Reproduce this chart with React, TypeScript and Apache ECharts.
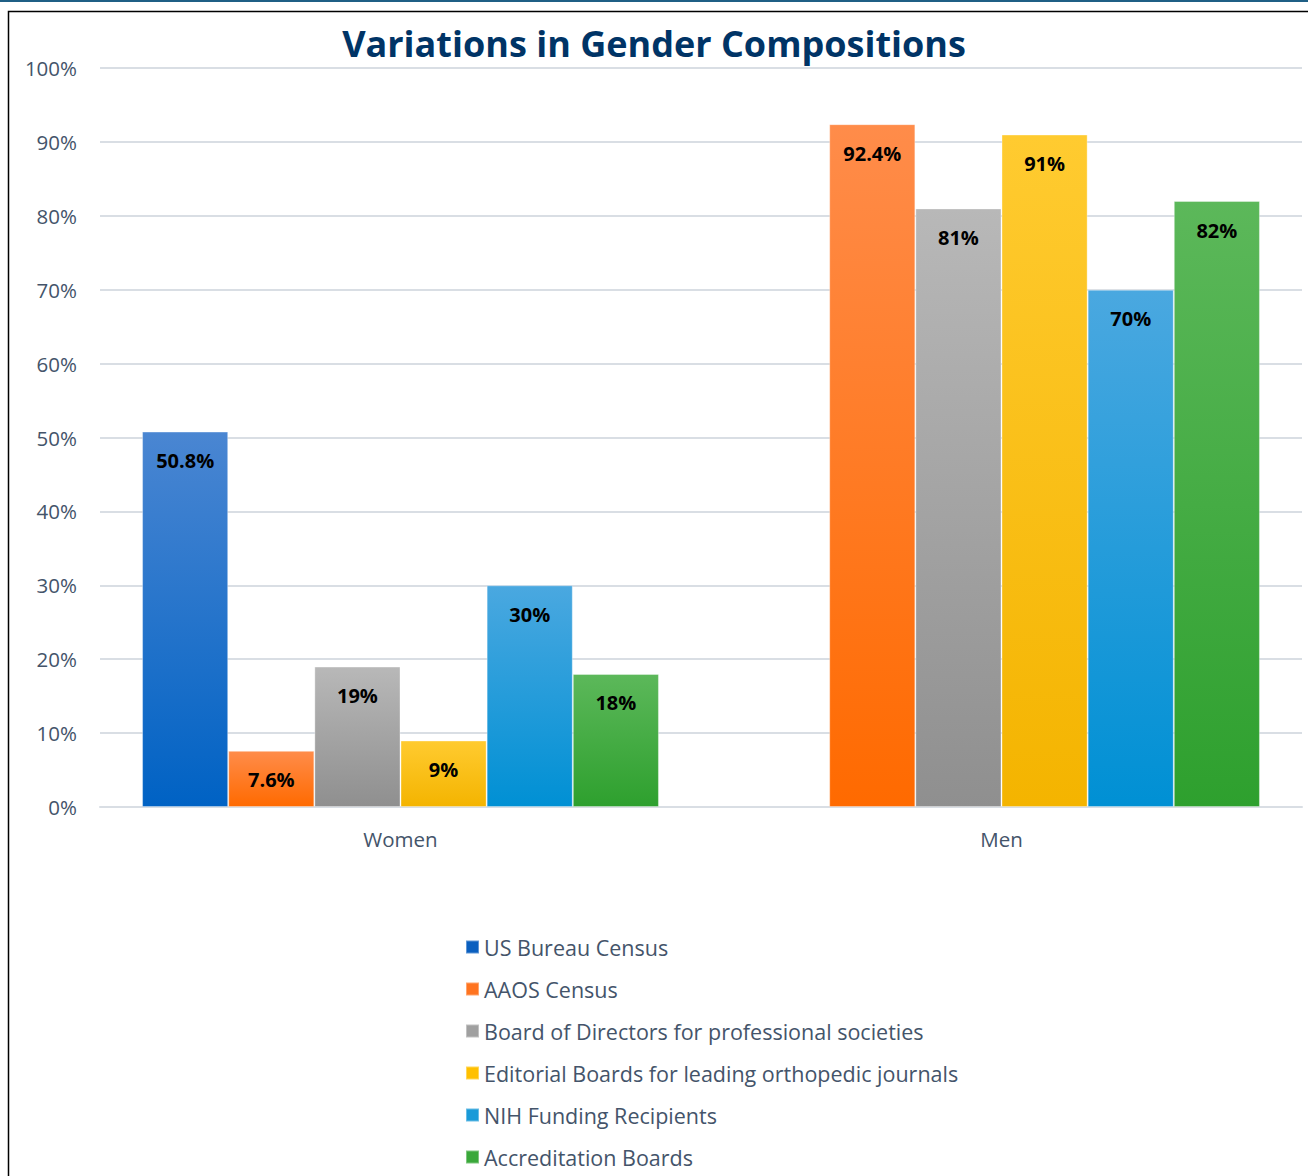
import React, { useEffect, useRef } from "react";
import * as echarts from "echarts";

const categories = ["Women", "Men"];
const seriesNames = [
  "US Bureau Census",
  "AAOS Census",
  "Board of Directors for professional societies",
  "Editorial Boards for leading orthopedic journals",
  "NIH Funding Recipients",
  "Accreditation Boards",
];
const usBureau = [50.8, null];
const aaos = [7.6, 92.4];
const boardDirectors = [19, 81];
const editorial = [9, 91];
const nih = [30, 70];
const accreditation = [18, 82];
const labelTexts = [
  ["50.8%", ""],
  ["7.6%", "92.4%"],
  ["19%", "81%"],
  ["9%", "91%"],
  ["30%", "70%"],
  ["18%", "82%"],
];
const yTicks = [0, 10, 20, 30, 40, 50, 60, 70, 80, 90, 100];

const seriesValues = [usBureau, aaos, boardDirectors, editorial, nih, accreditation];
const gradients: [string, string, string][] = [
  ["#4a86d2", "#0062c4", "#0a5fbf"],
  ["#ff8c4a", "#ff6a00", "#ff7420"],
  ["#b8b8b8", "#8f8f8f", "#a0a0a0"],
  ["#ffcb30", "#f4b400", "#ffc000"],
  ["#4aa8e0", "#0090d4", "#1a9ad8"],
  ["#5cb85a", "#2ea02e", "#3aa83a"],
];

const FONT = "'Open Sans', Lato, sans-serif";

export default function App() {
  const ref = useRef<HTMLDivElement>(null);
  useEffect(() => {
    document.body.style.margin = "0";
    const chart = echarts.init(ref.current!, null, { renderer: "svg" });
    chart.setOption({
      animation: false,
      textStyle: { fontFamily: FONT },
      title: {
        text: "Variations in Gender Compositions",
        left: "center",
        top: 20,
        textStyle: { fontFamily: FONT, fontSize: 36, fontWeight: "bold", color: "#003466" },
      },
      graphic: [
        { type: "rect", shape: { x: 0, y: 0, width: 1308, height: 2 }, style: { fill: "#1f5f85" } },
        {
          type: "rect",
          shape: { x: 8.5, y: 11.5, width: 1330, height: 1200 },
          style: { fill: "none", stroke: "#000", lineWidth: 1.5 },
        },
      ],
      legend: {
        orient: "vertical",
        left: 460,
        top: 928,
        height: 400,
        itemWidth: 13,
        itemHeight: 13,
        itemGap: 14,
        icon: "rect",
        data: seriesNames.map((n, i) => ({ name: n, itemStyle: { color: gradients[i][2] } })),
        textStyle: { fontFamily: FONT, fontSize: 21.5, color: "#44546a", lineHeight: 28 },
      },
      grid: { left: 100, right: 6, top: 68, bottom: 369 },
      xAxis: {
        type: "category",
        data: categories,
        axisLine: { show: true, lineStyle: { color: "#d9dee4", width: 2 } },
        axisTick: { show: false },
        axisLabel: { fontFamily: FONT, fontSize: 20.5, color: "#44546a", margin: 21 },
      },
      yAxis: {
        type: "value",
        min: 0,
        max: 100,
        interval: 10,
        axisLine: { show: false },
        axisTick: { show: false },
        splitLine: { lineStyle: { color: "#d9dee4", width: 2 } },
        axisLabel: {
          fontFamily: FONT,
          fontSize: 20.5,
          color: "#44546a",
          margin: 23,
          formatter: (v: number) => (yTicks.includes(v) ? v + "%" : ""),
        },
      },
      series: seriesNames.map((name, i) => ({
        name,
        type: "bar",
        barGap: "0%",
        barCategoryGap: "14%",
        data: seriesValues[i],
        itemStyle: {
          color: new echarts.graphic.LinearGradient(0, 0, 0, 1, [
            { offset: 0, color: gradients[i][0] },
            { offset: 1, color: gradients[i][1] },
          ]),
          borderColor: "rgba(255,255,255,0.35)",
          borderWidth: 1,
        },
        label: {
          show: true,
          position: "insideTop",
          distance: 19,
          fontFamily: FONT,
          fontSize: 20,
          fontWeight: "bold",
          color: "#000",
          formatter: (p: any) => labelTexts[i][p.dataIndex],
        },
      })),
    });
    return () => chart.dispose();
  }, []);
  return <div ref={ref} style={{ width: 1308, height: 1176 }} />;
}
